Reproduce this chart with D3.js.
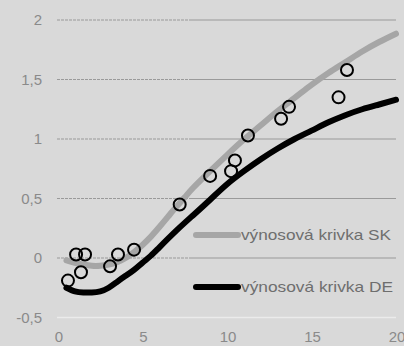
<!DOCTYPE html>
<html>
<head>
<meta charset="utf-8">
<script src="https://cdn.jsdelivr.net/npm/d3@7"></script>
<style>
  html, body { margin: 0; padding: 0; background: #d9d9d9; }
  svg { display: block; }
</style>
</head>
<body>
<svg id="chart" width="404" height="346"></svg>
<script>
// Yield curves: fitted Slovak (SK) and German (DE) curves plus observed SK bond yields
const xTicks = [0, 5, 10, 15, 20];
const yTicks = [-0.5, 0, 0.5, 1, 1.5, 2];

const skMaturity = [0.5, 1, 1.5, 2, 2.5, 3, 3.5, 4, 4.5, 5, 5.5, 6, 6.5, 7, 7.5, 8, 9, 10, 11, 12, 13, 14, 15, 16, 17, 18, 19, 20];
const skYield    = [-0.02, -0.04, -0.055, -0.065, -0.065, -0.055, -0.035, 0.0, 0.05, 0.11, 0.18, 0.26, 0.345, 0.43, 0.51, 0.59, 0.73, 0.865, 0.995, 1.115, 1.235, 1.345, 1.455, 1.555, 1.645, 1.735, 1.815, 1.885];

const deMaturity = [0.5, 1, 1.5, 2, 2.5, 3, 3.5, 4, 4.5, 5, 5.5, 6, 7, 8, 9, 10, 11, 12, 13, 14, 15, 16, 17, 18, 19, 20];
const deYield    = [-0.25, -0.28, -0.29, -0.29, -0.28, -0.25, -0.2, -0.15, -0.1, -0.04, 0.02, 0.09, 0.23, 0.36, 0.49, 0.62, 0.73, 0.83, 0.92, 1.0, 1.07, 1.14, 1.2, 1.25, 1.29, 1.33];

const bondMaturity = [0.59, 1.07, 1.36, 1.6, 3.08, 3.55, 4.5, 7.2, 9.0, 10.24, 10.47, 11.24, 13.2, 13.67, 16.6, 17.1];
const bondYield    = [-0.19, 0.03, -0.12, 0.03, -0.07, 0.03, 0.07, 0.45, 0.69, 0.73, 0.82, 1.03, 1.17, 1.27, 1.35, 1.58];

const seriesNames = ["výnosová krivka SK", "výnosová krivka DE"];

const svg = d3.select("#chart");
const x = d3.scaleLinear().domain([0, 20]).range([58, 396]);
const y = d3.scaleLinear().domain([0, 2]).range([258, 20]);

const font = "'Liberation Sans Narrow', 'Liberation Sans', Arial, sans-serif";

// Gridlines: dashed on the left part, solid on the right part, lowest line lighter
const splitX = 190;
const grid = svg.append("g");
yTicks.forEach(t => {
  if (t === -0.5) {
    grid.append("line")
      .attr("x1", x(0) - 1).attr("x2", x(20))
      .attr("y1", y(t)).attr("y2", y(t))
      .attr("stroke", "#ebebeb").attr("stroke-width", 1.5);
  } else {
    grid.append("line")
      .attr("x1", x(0) - 1).attr("x2", splitX)
      .attr("y1", y(t)).attr("y2", y(t))
      .attr("stroke", "#9a9a9a").attr("stroke-width", 1.2)
      .attr("stroke-dasharray", "3,1");
    grid.append("line")
      .attr("x1", splitX).attr("x2", x(20))
      .attr("y1", y(t)).attr("y2", y(t))
      .attr("stroke", "#9a9a9a").attr("stroke-width", 1.2);
  }
});

// Axis tick labels
const fmt = v => String(v).replace(".", ",");
svg.append("g").selectAll("text").data(yTicks).join("text")
  .attr("x", 42).attr("y", d => y(d))
  .attr("dy", "0.35em")
  .attr("text-anchor", "end")
  .attr("font-family", font).attr("font-size", 15)
  .attr("fill", "#8a8a8a")
  .text(fmt);

svg.append("g").selectAll("text").data(xTicks).join("text")
  .attr("x", d => x(d) + 1).attr("y", 337)
  .attr("dy", "0.35em")
  .attr("text-anchor", "middle")
  .attr("font-family", font).attr("font-size", 15)
  .attr("fill", "#8a8a8a")
  .text(fmt);

// Curves
const line = d3.line().curve(d3.curveNatural);
const skPts = skMaturity.map((m, i) => [x(m), y(skYield[i])]);
const dePts = deMaturity.map((m, i) => [x(m), y(deYield[i])]);

svg.append("path").attr("d", line(skPts))
  .attr("fill", "none").attr("stroke", "#a6a6a6")
  .attr("stroke-width", 6).attr("stroke-linecap", "round");

svg.append("path").attr("d", line(dePts))
  .attr("fill", "none").attr("stroke", "#000")
  .attr("stroke-width", 6).attr("stroke-linecap", "round");

// Observed bond yields
svg.append("g").selectAll("circle").data(bondMaturity).join("circle")
  .attr("cx", d => x(d)).attr("cy", (d, i) => y(bondYield[i]))
  .attr("r", 6)
  .attr("fill", "none").attr("stroke", "#000").attr("stroke-width", 2);

// Legend
const legendY = [235, 287];
const legendColor = ["#a6a6a6", "#000"];
seriesNames.forEach((name, i) => {
  svg.append("line")
    .attr("x1", 196).attr("x2", 238)
    .attr("y1", legendY[i]).attr("y2", legendY[i])
    .attr("stroke", legendColor[i]).attr("stroke-width", 6)
    .attr("stroke-linecap", "round");
  svg.append("text")
    .attr("x", 241).attr("y", legendY[i])
    .attr("dy", "0.35em")
    .attr("font-family", font).attr("font-size", 15)
    .attr("fill", "#6e6e6e")
    .attr("textLength", i === 0 ? 150 : 152)
    .attr("lengthAdjust", "spacingAndGlyphs")
    .text(name);
});
</script>
</body>
</html>
